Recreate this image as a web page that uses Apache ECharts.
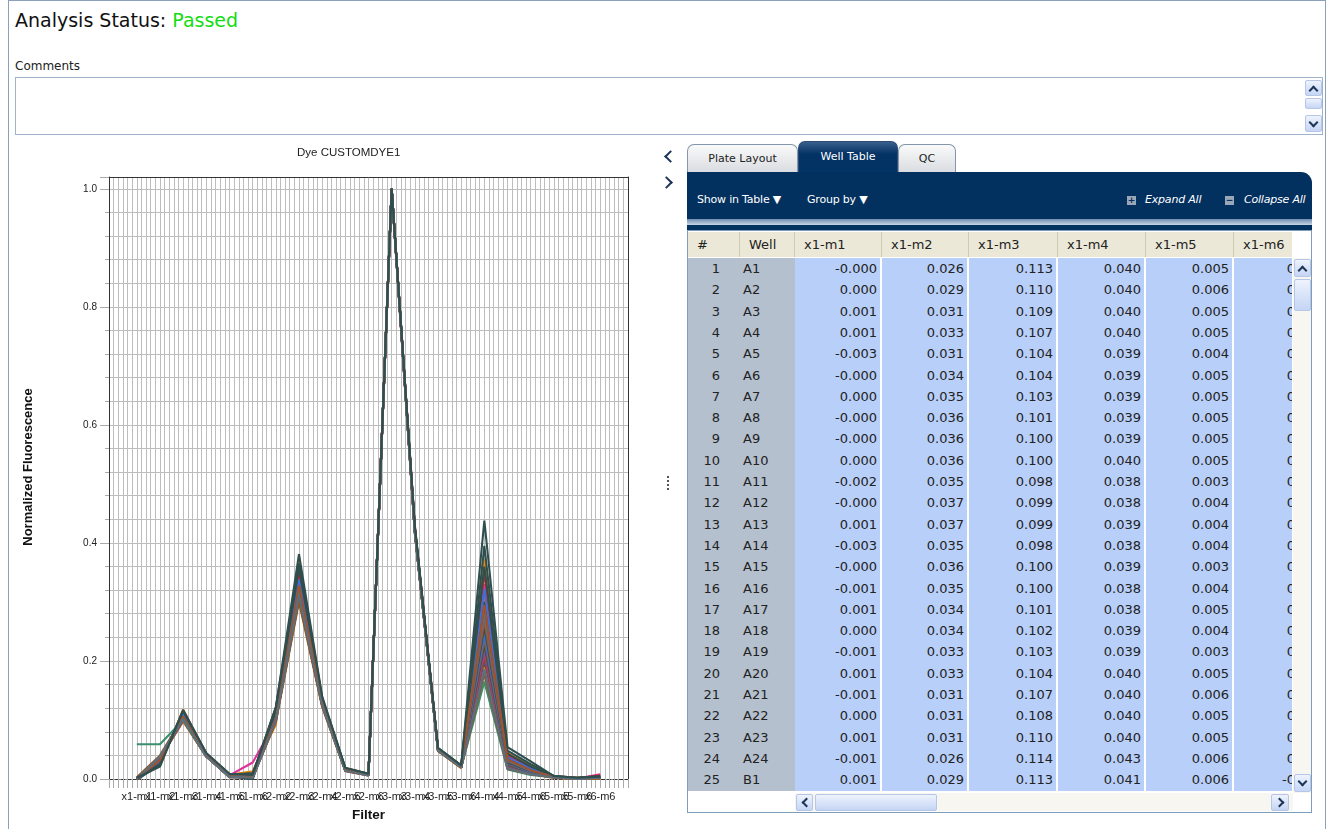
<!DOCTYPE html>
<html>
<head>
<meta charset="utf-8">
<script src="https://cdn.jsdelivr.net/npm/echarts@6/dist/echarts.min.js"></script>
<style>
  body { margin: 0; width: 1330px; height: 829px; overflow: hidden; background: #fff; font-family: "DejaVu Sans", sans-serif; position: relative; }
  .abs { position: absolute; }
  #frame { left: 8px; top: 0; width: 1318px; height: 840px; border: 1px solid #8aa0bb; box-sizing: border-box; }
  #status { left: 15px; top: 9px; font-size: 19px; color: #111; }
  #status span { color: #13dd13; }
  #commentsLbl { left: 15px; top: 59px; font-size: 12px; color: #222; }
  #comments { left: 15px; top: 77px; width: 1308px; height: 58px; border: 1px solid #9fb3cb; box-sizing: border-box; }
  .sbtn { background: linear-gradient(#eef3fd, #c5d5f5); border: 1px solid #b5c6e6; border-radius: 2px; box-sizing: border-box; }
  .chev { width: 7px; height: 7px; border-left: 2.5px solid #1d3557; border-bottom: 2.5px solid #1d3557; }
  #chart { left: 10px; top: 140px; width: 640px; height: 689px; }
  .tab { top: 144px; height: 28px; border: 1px solid #8296ad; border-bottom: none; border-radius: 7px 7px 0 0; box-sizing: border-box;
         background: linear-gradient(#fafafa, #d9dce1); font-size: 11px; color: #222; text-align: center; line-height: 27px; }
  .tab.on { top: 141px; height: 31px; background: linear-gradient(#3a5f8c, #033264 40%); color: #fff; border-color: #2c4d75; line-height: 30px; }
  #navy { left: 687px; top: 172px; width: 625px; height: 58px; background: #03315f; border-top-right-radius: 11px; }
  #navyStrip { left: 687px; top: 219px; width: 625px; height: 6px; background: linear-gradient(#6d8bb0, #c9d5e4); }
  .tool { color: #fff; font-size: 11px; top: 193px; letter-spacing: -0.2px; }
  .tool i { font-style: italic; }
  .ico { width: 9px; height: 9px; background: #9aa7b6; top: 196px; color: #03315f; font-size: 9px; line-height: 9px; text-align: center; font-weight: bold; }
  #tableBox { left: 687px; top: 230px; width: 625px; height: 583px; border: 1px solid #7f9db9; box-sizing: border-box; background: #fff; }
  #head { left: 688px; top: 232px; width: 604px; height: 25px; background: #ebe8d8; overflow: hidden; }
  .hc { top: 0; height: 25px; line-height: 25px; font-size: 13px; color: #222; border-right: 1px solid #cfcbb5; box-sizing: border-box; padding-left: 9px; }
  #rows { left: 688px; top: 258px; width: 604px; height: 533px; overflow: hidden; background: #b8cff9; }
  .row { position: absolute; left: 0; width: 700px; height: 22px; }
  .c { position: absolute; top: 0; height: 22px; line-height: 21px; font-size: 13px; color: #222; box-sizing: border-box; }
  .cg { background: #b5c0ce; }
  .cv { text-align: right; padding-right: 3px; border-right: 2px solid #fff; }
  #vbar { left: 1293px; top: 258px; width: 18px; height: 535px; background: #f7f6f1; }
  #hbar { left: 688px; top: 793px; width: 605px; height: 18px; background: #f7f6f1; }
</style>
</head>
<body>
<div id="frame" class="abs"></div>
<div id="status" class="abs">Analysis Status: <span>Passed</span></div>
<div id="commentsLbl" class="abs">Comments</div>
<div id="comments" class="abs">
  <div class="abs sbtn" style="left:1289px;top:2px;width:17px;height:16px;"></div>
  <div class="abs chev" style="left:1294px;top:9px;transform:rotate(135deg);width:5px;height:5px;border-width:2px;"></div>
  <div class="abs sbtn" style="left:1289px;top:20px;width:17px;height:11px;"></div>
  <div class="abs sbtn" style="left:1289px;top:37px;width:17px;height:17px;"></div>
  <div class="abs chev" style="left:1294px;top:41px;transform:rotate(-45deg);width:5px;height:5px;border-width:2px;"></div>
</div>

<div id="chart" class="abs"></div>

<div class="abs chev" style="left:666px;top:152px;transform:rotate(45deg);"></div>
<div class="abs chev" style="left:662px;top:178px;transform:rotate(-135deg);"></div>
<div class="abs" style="left:667px;top:476px;height:14px;border-left:2px dotted #555;"></div>

<div class="abs tab" style="left:687px;width:111px;">Plate Layout</div>
<div class="abs tab on" style="left:798px;width:100px;">Well Table</div>
<div class="abs tab" style="left:898px;width:58px;">QC</div>

<div id="navy" class="abs"></div>
<div id="navyStrip" class="abs"></div>
<div class="abs tool" style="left:697px;">Show in Table &#9660;</div>
<div class="abs tool" style="left:807px;">Group by &#9660;</div>
<div class="abs ico" style="left:1127px;">+</div>
<div class="abs tool" style="left:1145px;"><i>Expand All</i></div>
<div class="abs ico" style="left:1225px;">&minus;</div>
<div class="abs tool" style="left:1244px;"><i>Collapse All</i></div>

<div id="tableBox" class="abs"></div>
<div id="head" class="abs"></div>
<div id="rows" class="abs"></div>
<div id="vbar" class="abs">
  <div class="abs sbtn" style="left:1px;top:1px;width:17px;height:18px;"></div>
  <div class="abs chev" style="left:6px;top:9px;transform:rotate(135deg);width:5px;height:5px;border-width:2px;"></div>
  <div class="abs sbtn" style="left:1px;top:21px;width:17px;height:32px;"></div>
  <div class="abs sbtn" style="left:1px;top:516px;width:17px;height:18px;"></div>
  <div class="abs chev" style="left:6px;top:520px;transform:rotate(-45deg);width:5px;height:5px;border-width:2px;"></div>
</div>
<div id="hbar" class="abs">
  <div class="abs" style="left:0;top:0;width:107px;height:18px;background:#fff;"></div>
  <div class="abs sbtn" style="left:108px;top:1px;width:17px;height:17px;"></div>
  <div class="abs chev" style="left:115px;top:6px;transform:rotate(45deg);width:5px;height:5px;border-width:2px;"></div>
  <div class="abs sbtn" style="left:127px;top:1px;width:122px;height:17px;"></div>
  <div class="abs sbtn" style="left:583px;top:1px;width:18px;height:17px;"></div>
  <div class="abs chev" style="left:588px;top:6px;transform:rotate(-135deg);width:5px;height:5px;border-width:2px;"></div>
</div>

<script>
// filters (x axis categories)
const filters = ['x1-m1', 'x1-m2', 'x1-m3', 'x1-m4', 'x1-m5', 'x1-m6',
                 'x2-m2', 'x2-m3', 'x2-m4', 'x2-m5', 'x2-m6',
                 'x3-m3', 'x3-m4', 'x3-m5', 'x3-m6',
                 'x4-m4', 'x4-m5', 'x4-m6',
                 'x5-m5', 'x5-m6', 'x6-m6'];

const wells = ['A1', 'A2', 'A3', 'A4', 'A5', 'A6', 'A7', 'A8', 'A9', 'A10', 'A11', 'A12',
               'A13', 'A14', 'A15', 'A16', 'A17', 'A18', 'A19', 'A20', 'A21', 'A22', 'A23', 'A24',
               'B1', 'B2', 'B3', 'B4', 'B5', 'B6', 'B7', 'B8', 'B9', 'B10', 'B11', 'B12'];

// normalized fluorescence per filter, one value per well (same order as wells)
const x1_m1 = [-0.0003, 0.0002, 0.001, 0.001, -0.003, -0.0003, 0.0002, -0.0004, -0.0002, 0.0003, -0.002, -0.0003,
               0.001, -0.003, -0.0002, -0.001, 0.001, 0.0004, -0.001, 0.001, -0.001, 0.0002, 0.001, -0.001,
               0.001, 0.002, 0.000, 0.059, 0.001, -0.001, 0.003, 0.000, 0.002, 0.001, 0.000, 0.002];
const x1_m2 = [0.026, 0.029, 0.031, 0.033, 0.031, 0.034, 0.035, 0.036, 0.036, 0.036, 0.035, 0.037,
               0.037, 0.035, 0.036, 0.035, 0.034, 0.034, 0.033, 0.033, 0.031, 0.031, 0.031, 0.026,
               0.029, 0.022, 0.028, 0.059, 0.030, 0.024, 0.040, 0.027, 0.025, 0.032, 0.038, 0.021];
const x1_m3 = [0.113, 0.110, 0.109, 0.107, 0.104, 0.104, 0.103, 0.101, 0.100, 0.100, 0.098, 0.099,
               0.099, 0.098, 0.100, 0.100, 0.101, 0.102, 0.103, 0.104, 0.107, 0.108, 0.110, 0.114,
               0.113, 0.118, 0.112, 0.100, 0.109, 0.116, 0.105, 0.111, 0.115, 0.106, 0.102, 0.117];
const x1_m4 = [0.040, 0.040, 0.040, 0.040, 0.039, 0.039, 0.039, 0.039, 0.039, 0.040, 0.038, 0.038,
               0.039, 0.038, 0.039, 0.038, 0.038, 0.039, 0.039, 0.040, 0.040, 0.040, 0.040, 0.043,
               0.041, 0.042, 0.041, 0.038, 0.040, 0.043, 0.039, 0.041, 0.042, 0.040, 0.038, 0.044];
const x1_m5 = [0.005, 0.006, 0.005, 0.005, 0.004, 0.005, 0.005, 0.005, 0.005, 0.005, 0.003, 0.004,
               0.004, 0.004, 0.003, 0.004, 0.005, 0.004, 0.003, 0.005, 0.006, 0.005, 0.005, 0.006,
               0.006, 0.007, 0.006, 0.004, 0.005, 0.008, 0.004, 0.006, 0.007, 0.005, 0.004, 0.009];
const x1_m6 = [0.004, 0.005, 0.004, 0.004, 0.003, 0.004, 0.004, 0.004, 0.004, 0.004, 0.002, 0.003,
               0.003, 0.003, 0.003, 0.003, 0.004, 0.003, 0.002, 0.004, 0.005, 0.004, 0.004, 0.005,
               -0.001, 0.013, 0.028, 0.003, 0.008, 0.006, 0.003, 0.005, 0.010, 0.004, 0.002, 0.007];
const x2_m2 = [0.118, 0.115, 0.112, 0.110, 0.105, 0.106, 0.104, 0.102, 0.101, 0.100, 0.098, 0.099,
               0.099, 0.098, 0.100, 0.101, 0.102, 0.103, 0.104, 0.106, 0.108, 0.110, 0.113, 0.120,
               0.117, 0.092, 0.097, 0.104, 0.100, 0.122, 0.096, 0.108, 0.114, 0.103, 0.099, 0.121];
const x2_m3 = [0.335, 0.330, 0.326, 0.322, 0.318, 0.316, 0.314, 0.312, 0.310, 0.309, 0.305, 0.307,
               0.306, 0.304, 0.308, 0.310, 0.313, 0.315, 0.318, 0.321, 0.326, 0.329, 0.334, 0.345,
               0.340, 0.372, 0.355, 0.320, 0.348, 0.365, 0.300, 0.338, 0.358, 0.328, 0.312, 0.381];
const x2_m4 = [0.133, 0.132, 0.131, 0.130, 0.128, 0.128, 0.127, 0.126, 0.126, 0.125, 0.124, 0.125,
               0.125, 0.124, 0.125, 0.126, 0.127, 0.127, 0.128, 0.129, 0.130, 0.131, 0.132, 0.136,
               0.134, 0.138, 0.135, 0.129, 0.134, 0.137, 0.122, 0.133, 0.136, 0.130, 0.126, 0.140];
const x2_m5 = [0.016, 0.016, 0.016, 0.015, 0.015, 0.015, 0.015, 0.015, 0.014, 0.014, 0.014, 0.014,
               0.014, 0.014, 0.014, 0.015, 0.015, 0.015, 0.015, 0.015, 0.016, 0.016, 0.016, 0.017,
               0.017, 0.018, 0.017, 0.015, 0.017, 0.018, 0.013, 0.016, 0.018, 0.016, 0.014, 0.019];
const x2_m6 = [0.008, 0.008, 0.008, 0.007, 0.007, 0.007, 0.007, 0.007, 0.007, 0.007, 0.006, 0.007,
               0.007, 0.006, 0.007, 0.007, 0.007, 0.007, 0.007, 0.007, 0.008, 0.008, 0.008, 0.009,
               0.008, 0.009, 0.008, 0.007, 0.008, 0.009, 0.006, 0.008, 0.009, 0.007, 0.006, 0.009];
const x3_m3 = [1.000, 1.000, 0.999, 1.000, 0.998, 1.000, 0.999, 1.000, 1.000, 0.998, 1.000, 0.999,
               1.000, 1.000, 0.999, 1.000, 0.998, 1.000, 1.000, 0.999, 1.000, 1.000, 0.998, 1.000,
               1.000, 0.997, 0.999, 1.000, 0.998, 1.000, 0.996, 1.000, 0.999, 1.000, 0.998, 1.000];
const x3_m4 = [0.425, 0.424, 0.423, 0.422, 0.421, 0.421, 0.420, 0.420, 0.419, 0.419, 0.418, 0.418,
               0.419, 0.418, 0.419, 0.419, 0.420, 0.420, 0.421, 0.421, 0.422, 0.423, 0.424, 0.426,
               0.425, 0.428, 0.426, 0.421, 0.424, 0.427, 0.416, 0.423, 0.426, 0.422, 0.418, 0.430];
const x3_m5 = [0.050, 0.050, 0.050, 0.049, 0.049, 0.049, 0.049, 0.049, 0.048, 0.048, 0.048, 0.048,
               0.048, 0.048, 0.048, 0.049, 0.049, 0.049, 0.049, 0.049, 0.050, 0.050, 0.050, 0.051,
               0.051, 0.052, 0.051, 0.049, 0.051, 0.052, 0.047, 0.050, 0.052, 0.050, 0.048, 0.053];
const x3_m6 = [0.021, 0.021, 0.021, 0.021, 0.020, 0.020, 0.020, 0.020, 0.020, 0.020, 0.019, 0.020,
               0.020, 0.019, 0.020, 0.020, 0.020, 0.020, 0.020, 0.021, 0.021, 0.021, 0.021, 0.022,
               0.022, 0.023, 0.022, 0.020, 0.022, 0.023, 0.019, 0.021, 0.022, 0.021, 0.020, 0.023];
const x4_m4 = [0.285, 0.270, 0.262, 0.250, 0.238, 0.232, 0.225, 0.218, 0.212, 0.205, 0.195, 0.200,
               0.198, 0.190, 0.203, 0.210, 0.220, 0.228, 0.236, 0.245, 0.258, 0.268, 0.280, 0.310,
               0.300, 0.372, 0.330, 0.165, 0.350, 0.395, 0.178, 0.322, 0.360, 0.295, 0.185, 0.438];
const x4_m5 = [0.032, 0.030, 0.029, 0.028, 0.026, 0.025, 0.024, 0.023, 0.022, 0.021, 0.020, 0.020,
               0.020, 0.019, 0.021, 0.022, 0.023, 0.024, 0.025, 0.027, 0.028, 0.030, 0.031, 0.036,
               0.034, 0.044, 0.038, 0.016, 0.041, 0.048, 0.017, 0.037, 0.043, 0.033, 0.018, 0.054];
const x4_m6 = [0.015, 0.014, 0.013, 0.013, 0.012, 0.012, 0.011, 0.011, 0.010, 0.010, 0.009, 0.009,
               0.009, 0.009, 0.010, 0.010, 0.011, 0.011, 0.012, 0.012, 0.013, 0.014, 0.014, 0.017,
               0.016, 0.022, 0.019, 0.007, 0.020, 0.025, 0.008, 0.018, 0.021, 0.015, 0.008, 0.030];
const x5_m5 = [0.004, 0.004, 0.004, 0.003, 0.003, 0.003, 0.003, 0.003, 0.003, 0.003, 0.002, 0.003,
               0.003, 0.002, 0.003, 0.003, 0.003, 0.003, 0.003, 0.003, 0.004, 0.004, 0.004, 0.004,
               0.004, 0.005, 0.004, 0.003, 0.004, 0.005, 0.002, 0.004, 0.005, 0.004, 0.003, 0.005];
const x5_m6 = [0.001, 0.001, 0.001, 0.001, 0.001, 0.001, 0.001, 0.001, 0.001, 0.001, 0.000, 0.001,
               0.001, 0.000, 0.001, 0.001, 0.001, 0.001, 0.001, 0.001, 0.001, 0.001, 0.001, 0.002,
               0.001, 0.002, 0.001, 0.001, 0.001, 0.002, 0.000, 0.001, 0.002, 0.001, 0.000, 0.002];
const x6_m6 = [0.003, 0.003, 0.003, 0.002, 0.002, 0.002, 0.002, 0.002, 0.002, 0.002, 0.001, 0.002,
               0.002, 0.001, 0.002, 0.002, 0.002, 0.002, 0.002, 0.003, 0.003, 0.003, 0.003, 0.004,
               0.003, 0.005, 0.008, 0.002, 0.006, 0.004, 0.001, 0.003, 0.005, 0.003, 0.002, 0.004];

const columns = [x1_m1, x1_m2, x1_m3, x1_m4, x1_m5, x1_m6, x2_m2, x2_m3, x2_m4, x2_m5, x2_m6,
                 x3_m3, x3_m4, x3_m5, x3_m6, x4_m4, x4_m5, x4_m6, x5_m5, x5_m6, x6_m6];

// wells shown in the table and the columns visible
const tableRows = 25;
const tableCols = [x1_m1, x1_m2, x1_m3, x1_m4, x1_m5, x1_m6];

const palette = ['#2f4f4f', '#e07800', '#3a5a8c', '#c0392b', '#7d4fb8', '#2f4f4f',
                 '#8b5a2b', '#3d6fd6', '#2f4f4f', '#a0522d', '#5e6e7e', '#d2691e'];
const specialColors = { B2: '#e8820c', B3: '#e0309a', B4: '#3a8f6e', B5: '#d42020', B12: '#2f4f4f' };

// ---- table ----
const head = document.querySelector('#head');
const colX = [0, 52, 107, 194, 281, 370, 458, 546, 641];
const headers = ['#', 'Well'].concat(filters.slice(0, 6));
headers.forEach((h, i) => {
    const d = document.createElement('div');
    d.className = 'abs hc';
    d.style.left = colX[i] + 'px';
    d.style.width = (colX[i + 1] - colX[i]) + 'px';
    d.textContent = h;
    head.appendChild(d);
});

const rows = document.querySelector('#rows');
for (let r = 0; r < tableRows; r++) {
    const row = document.createElement('div');
    row.className = 'row';
    row.style.top = Math.round(r * 21.3) + 'px';
    let html = `<div class="c cg" style="left:0;width:52px;text-align:right;padding-right:20px;">${r + 1}</div>`;
    html += `<div class="c cg" style="left:52px;width:55px;padding-left:3px;">${wells[r]}</div>`;
    tableCols.forEach((col, k) => {
        const w = colX[k + 3] - colX[k + 2];
        html += `<div class="c cv" style="left:${colX[k + 2]}px;width:${w}px;">${col[r].toFixed(3)}</div>`;
    });
    row.innerHTML = html;
    rows.appendChild(row);
}

// ---- chart ----
const series = wells.map((w, i) => ({
    name: w,
    type: 'line',
    symbol: 'none',
    lineStyle: { width: 2.1 },
    color: specialColors[w] || palette[i % palette.length],
    data: columns.map((col, j) => [j, col[i]])
}));

const isStep = (v, step) => Math.abs(v / step - Math.round(v / step)) < 1e-6;

const chartOptions = {
    animation: false,
    title: {
        text: 'Dye CUSTOMDYE1',
        left: 282, top: 2,
        textStyle: { fontFamily: 'Liberation Sans', fontSize: 11.5, fontWeight: 'normal', color: '#222' }
    },
    grid: { left: 99, top: 37, width: 519, height: 602 },
    xAxis: [
        {
            type: 'value', min: -1.2, max: 21.2, interval: 0.2, position: 'bottom',
            name: 'Filter', nameLocation: 'middle', nameGap: 29,
            nameTextStyle: { fontFamily: 'Liberation Sans', fontSize: 13.5, fontWeight: 'bold', color: '#111' },
            axisLine: { onZero: false, lineStyle: { color: '#333', type: 'dashed', width: 1 } },
            axisTick: { show: true, length: 9, lineStyle: { color: '#aaa' } },
            axisLabel: {
                margin: 12, fontSize: 11, color: '#222', fontFamily: 'Liberation Sans', hideOverlap: false,
                formatter: v => {
                    const k = Math.round(v);
                    return (isStep(v, 1) && k >= 0 && k < filters.length) ? filters[k] : '';
                }
            },
            splitLine: { show: true, lineStyle: { color: '#bdbdbd', width: 1 } }
        },
        {
            type: 'value', min: -1.2, max: 21.2, interval: 0.2, position: 'top',
            axisLine: { onZero: false, lineStyle: { color: '#333' } },
            axisTick: { show: false }, axisLabel: { show: false }, splitLine: { show: false }
        }
    ],
    yAxis: [
        {
            type: 'value', min: 0, max: 1.02, interval: 0.04, position: 'left',
            axisLine: { show: true, onZero: false, lineStyle: { color: '#333' } },
            axisTick: { show: true, length: 4, lineStyle: { color: '#aaa' } },
            axisLabel: { show: false },
            splitLine: { show: true, lineStyle: { color: '#bdbdbd', width: 1 } }
        },
        {
            type: 'value', min: 0, max: 1.02, interval: 0.2, position: 'left',
            name: 'Normalized Fluorescence', nameLocation: 'middle', nameGap: 74,
            nameTextStyle: { fontFamily: 'Liberation Sans', fontSize: 13, fontWeight: 'bold', color: '#111', padding: [0, 0, 0, 22] },
            axisLine: { show: false, onZero: false },
            axisTick: { show: true, length: 9, lineStyle: { color: '#aaa' } },
            axisLabel: {
                margin: 12, fontSize: 10, color: '#222', fontFamily: 'Liberation Sans',
                formatter: v => (isStep(v, 0.2) && v <= 1.0001) ? v.toFixed(1) : ''
            },
            splitLine: { show: false }
        },
        {
            type: 'value', min: 0, max: 1.02, position: 'right',
            axisLine: { show: true, onZero: false, lineStyle: { color: '#333' } },
            axisTick: { show: false }, axisLabel: { show: false }, splitLine: { show: false }
        }
    ],
    series: series
};

const chart = window.echarts.init(document.querySelector('#chart'));
chart.setOption(chartOptions);
</script>
</body>
</html>
